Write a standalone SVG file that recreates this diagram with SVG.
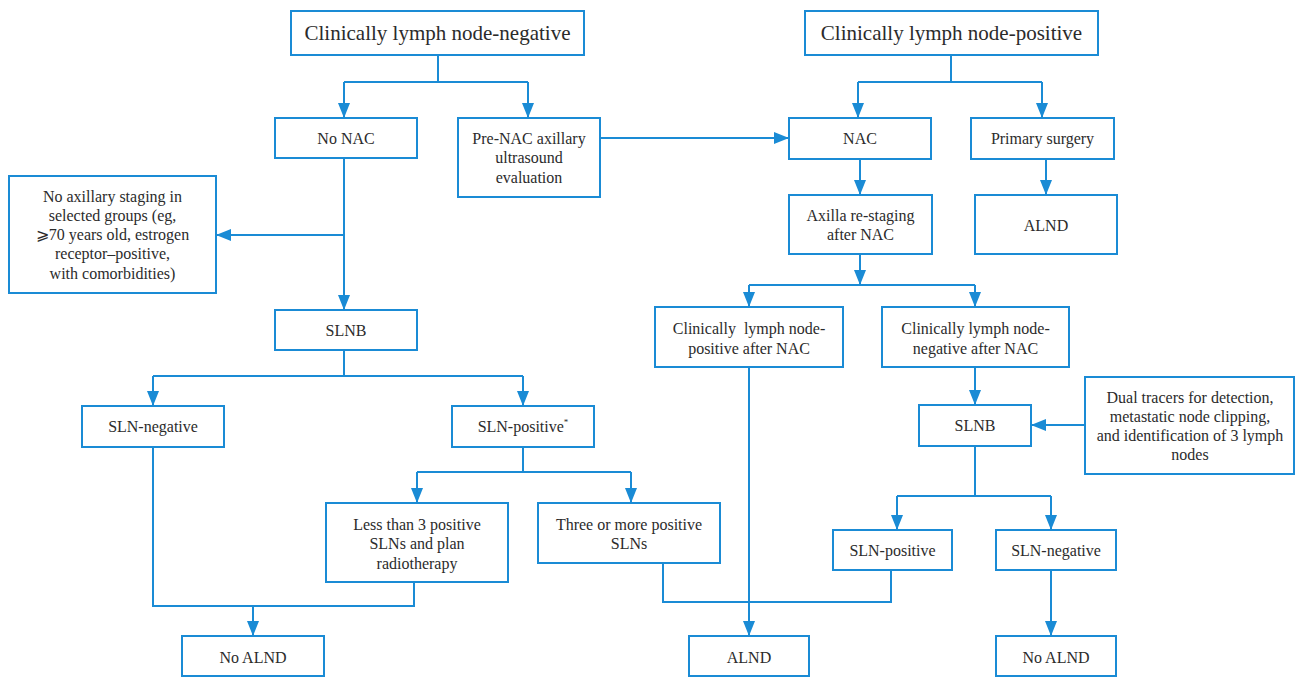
<svg xmlns="http://www.w3.org/2000/svg" width="1295" height="677" viewBox="0 0 1295 677">
<style>
.box rect{fill:#fff;stroke:#1a8bd5;stroke-width:2}
.box text{font-size:16px;fill:#2b2b2b;text-anchor:middle}
.box text.title{font-size:21px}
.conn path{fill:none;stroke:#1a8bd5;stroke-width:2}
.pre{white-space:pre}
</style>
<defs>
<marker id="arr" markerUnits="userSpaceOnUse" markerWidth="15" markerHeight="12" refX="15" refY="6" orient="auto">
<path d="M0,0 L15,6 L0,12 z" fill="#1a8bd5"/>
</marker>
</defs>
<rect width="1295" height="677" fill="#fff"/>
<g class="conn">
<path d="M438,55 V82 M344,82 H528"/>
<path d="M344,82 V118" marker-end="url(#arr)"/>
<path d="M528,82 V118" marker-end="url(#arr)"/>
<path d="M951,55 V82 M858,82 H1042"/>
<path d="M858,82 V118" marker-end="url(#arr)"/>
<path d="M1042,82 V118" marker-end="url(#arr)"/>
<path d="M600,138 H789" marker-end="url(#arr)"/>
<path d="M344,158 V310" marker-end="url(#arr)"/>
<path d="M344,235 H216" marker-end="url(#arr)"/>
<path d="M860,159 V195" marker-end="url(#arr)"/>
<path d="M1046,159 V195" marker-end="url(#arr)"/>
<path d="M860,254 V285" marker-end="url(#arr)"/>
<path d="M749,285 H975"/>
<path d="M749,285 V307" marker-end="url(#arr)"/>
<path d="M975,285 V307" marker-end="url(#arr)"/>
<path d="M749,367 V636" marker-end="url(#arr)"/>
<path d="M975,367 V405" marker-end="url(#arr)"/>
<path d="M1085,425 H1031" marker-end="url(#arr)"/>
<path d="M975,446 V496 M897,496 H1051"/>
<path d="M897,496 V530" marker-end="url(#arr)"/>
<path d="M1051,496 V530" marker-end="url(#arr)"/>
<path d="M1051,570 V636" marker-end="url(#arr)"/>
<path d="M663,563 V602 H891 V570"/>
<path d="M344,350 V376 M153,376 H523"/>
<path d="M153,376 V406" marker-end="url(#arr)"/>
<path d="M523,376 V406" marker-end="url(#arr)"/>
<path d="M523,447 V472 M417,472 H631"/>
<path d="M417,472 V503" marker-end="url(#arr)"/>
<path d="M631,472 V503" marker-end="url(#arr)"/>
<path d="M153,447 V606 H414 V582"/>
<path d="M253,606 V636" marker-end="url(#arr)"/>
</g>
<g font-family="'Liberation Serif', 'Times New Roman', Tinos, 'DejaVu Serif', 'Noto Serif', serif">
<g id="cln-neg" class="box"><rect x="291" y="11" width="293" height="44"/><text class="title" x="437.5" y="40">Clinically lymph node-negative</text></g>
<g id="cln-pos" class="box"><rect x="805" y="11" width="293" height="44"/><text class="title" x="951.5" y="40">Clinically lymph node-positive</text></g>
<g id="no-nac" class="box"><rect x="275" y="118" width="142" height="40"/><text x="346" y="144">No NAC</text></g>
<g id="pre-nac" class="box"><rect x="458" y="118" width="142" height="79"/><text x="529" y="144">Pre-NAC axillary</text><text x="529" y="163">ultrasound</text><text x="529" y="183">evaluation</text></g>
<g id="nac" class="box"><rect x="789" y="118" width="142" height="41"/><text x="860" y="144">NAC</text></g>
<g id="primary" class="box"><rect x="971" y="118" width="143" height="41"/><text x="1042.5" y="144">Primary surgery</text></g>
<g id="restaging" class="box"><rect x="789" y="195" width="143" height="59"/><text x="860.5" y="221">Axilla re-staging</text><text x="860.5" y="240">after NAC</text></g>
<g id="alnd-top" class="box"><rect x="975" y="195" width="142" height="59"/><text x="1046" y="231">ALND</text></g>
<g id="no-staging" class="box"><rect x="9" y="176" width="207" height="117"/><text x="112.5" y="202">No axillary staging in</text><text x="112.5" y="221">selected groups (eg,</text><text x="112.5" y="240">⩾70 years old, estrogen</text><text x="112.5" y="259">receptor–positive,</text><text x="112.5" y="279">with comorbidities)</text></g>
<g id="slnb-left" class="box"><rect x="275" y="310" width="142" height="40"/><text x="346" y="336">SLNB</text></g>
<g id="sln-neg-left" class="box"><rect x="82" y="406" width="142" height="41"/><text x="153" y="432">SLN-negative</text></g>
<g id="sln-pos-left" class="box"><rect x="452" y="406" width="142" height="41"/><text x="523" y="432">SLN-positive<tspan font-size="9" dy="-7">*</tspan></text></g>
<g id="less3" class="box"><rect x="326" y="503" width="182" height="79"/><text x="417" y="530">Less than 3 positive</text><text x="417" y="549">SLNs and plan</text><text x="417" y="569">radiotherapy</text></g>
<g id="three-more" class="box"><rect x="538" y="503" width="182" height="60"/><text x="629" y="530">Three or more positive</text><text x="629" y="549">SLNs</text></g>
<g id="no-alnd-left" class="box"><rect x="182" y="636" width="142" height="40"/><text x="253" y="663">No ALND</text></g>
<g id="pos-after" class="box"><rect x="655" y="307" width="188" height="60"/><text class="pre" x="749" y="334">Clinically  lymph node-</text><text x="749" y="354">positive after NAC</text></g>
<g id="neg-after" class="box"><rect x="882" y="307" width="187" height="60"/><text x="975.5" y="334">Clinically lymph node-</text><text x="975.5" y="354">negative after NAC</text></g>
<g id="slnb-right" class="box"><rect x="919" y="405" width="112" height="41"/><text x="975" y="431">SLNB</text></g>
<g id="dual" class="box"><rect x="1085" y="377" width="209" height="97"/><text x="1190" y="403">Dual tracers for detection,</text><text x="1190" y="422">metastatic node clipping,</text><text x="1190" y="441">and identification of 3 lymph</text><text x="1190" y="460">nodes</text></g>
<g id="sln-pos-right" class="box"><rect x="833" y="530" width="119" height="40"/><text x="892.5" y="556">SLN-positive</text></g>
<g id="sln-neg-right" class="box"><rect x="996" y="530" width="120" height="40"/><text x="1056" y="556">SLN-negative</text></g>
<g id="alnd-bottom" class="box"><rect x="689" y="636" width="120" height="40"/><text x="749" y="663">ALND</text></g>
<g id="no-alnd-right" class="box"><rect x="996" y="636" width="120" height="40"/><text x="1056" y="663">No ALND</text></g>
</g>
</svg>
